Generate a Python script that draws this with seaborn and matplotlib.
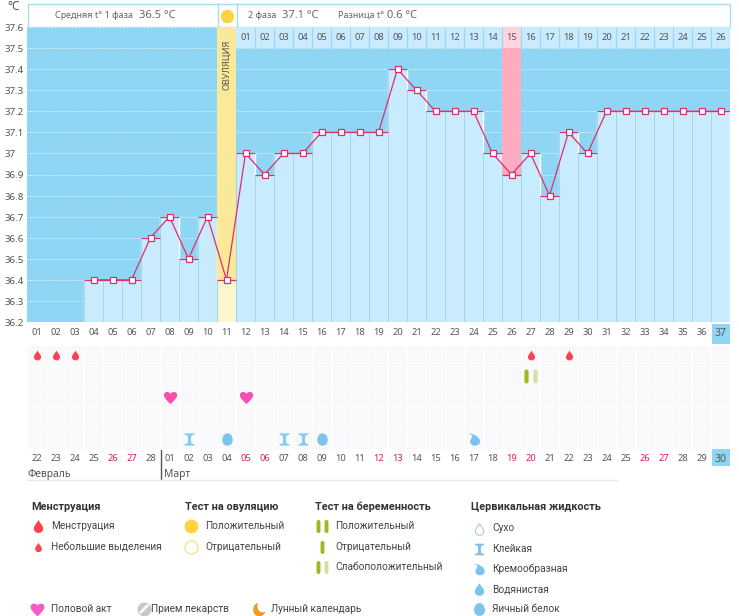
import numpy as np
import pandas as pd
import seaborn as sns
import matplotlib.pyplot as plt
from matplotlib.colors import ListedColormap
from matplotlib.patches import Rectangle
from matplotlib.path import Path
from matplotlib.transforms import ScaledTranslation

nan = float('nan')

# Data
cycle_days = [f"{d:02d}" for d in range(1, 38)]
temps = [nan, nan, nan, 36.4, 36.4, 36.4, 36.6, 36.7, 36.5, 36.7, 36.4, 37.0, 36.9,
         37.0, 37.0, 37.1, 37.1, 37.1, 37.1, 37.4, 37.3, 37.2, 37.2, 37.2, 37.0, 36.9,
         37.0, 36.8, 37.1, 37.0, 37.2, 37.2, 37.2, 37.2, 37.2, 37.2, 37.2]
y_ticks = [36.2, 36.3, 36.4, 36.5, 36.6, 36.7, 36.8, 36.9, 37.0, 37.1, 37.2, 37.3, 37.4, 37.5, 37.6]
y_labels = ["36.2", "36.3", "36.4", "36.5", "36.6", "36.7", "36.8", "36.9", "37", "37.1",
            "37.2", "37.3", "37.4", "37.5", "37.6"]
phase_days = [f"{d:02d}" for d in range(1, 27)]
dates = ["22", "23", "24", "25", "26", "27", "28"] + [f"{d:02d}" for d in range(1, 31)]
weekend_idx = [4, 5, 11, 12, 18, 19, 25, 26, 32, 33]
ovulation_day = 11
peak_day = 26
menses_days = [1, 2, 3, 27, 29]
test_strong_days = [27]
test_weak_days = [27]
sex_days = [8, 12]
sticky_days = [9, 14, 15]
egg_days = [11, 16]
cream_days = [24]

DARK = '#8FD6F5'
LIGHT = '#C8EBFD'
EDGE = '#A2D5EC'
YELLOW = '#FBE99A'
PALE_YELLOW = '#FCF6CC'
PINK = '#FFABC1'
LINE = '#DC2F70'
GREY = '#555555'
RED = '#FA4450'
BLUE = '#7CC3EF'
GREEN = '#9DB921'
PALE_GREEN = '#D3E0A5'
HEART = '#FB4FB0'

sns.set_theme(style='white')
plt.rcParams['font.family'] = ['Noto Sans', 'DejaVu Sans']

# marker shapes
C3, C4, L, M, Z = Path.CURVE3, Path.CURVE4, Path.LINETO, Path.MOVETO, Path.CLOSEPOLY
DROP = Path([(0, 1), (0.2, 0.55), (0.72, 0.2), (0.72, -0.35), (0.72, -0.75), (0.35, -1), (0, -1),
             (-0.35, -1), (-0.72, -0.75), (-0.72, -0.35), (-0.72, 0.2), (-0.2, 0.55), (0, 1), (0, 1)],
            [M, C4, C4, C4, C4, C4, C4, C4, C4, C4, C4, C4, C4, Z])
HEART_M = Path([(0, -1), (-0.5, -0.5), (-1, -0.1), (-1, 0.35), (-1, 0.95), (-0.25, 1), (0, 0.55),
                (0.25, 1), (1, 0.95), (1, 0.35), (1, -0.1), (0.5, -0.5), (0, -1), (0, -1)],
               [M, C4, C4, C4, C4, C4, C4, C4, C4, C4, C4, C4, C4, Z])
GLASS = Path([(-0.8, 1), (0.8, 1), (0.8, 0.8), (0.3, 0.6), (0.22, 0), (0.3, -0.6), (0.8, -0.8),
              (0.8, -1), (-0.8, -1), (-0.8, -0.8), (-0.3, -0.6), (-0.22, 0), (-0.3, 0.6),
              (-0.8, 0.8), (-0.8, 1)],
             [M, L, L, L, L, L, L, L, L, L, L, L, L, L, Z])
EGG = Path([(0, 1), (0.55, 1), (0.85, 0.45), (0.85, -0.1), (0.85, -0.65), (0.5, -1), (0, -1),
            (-0.5, -1), (-0.85, -0.65), (-0.85, -0.1), (-0.85, 0.45), (-0.55, 1), (0, 1), (0, 1)],
           [M, C4, C4, C4, C4, C4, C4, C4, C4, C4, C4, C4, C4, Z])
CREAM = Path([(-1, 1), (-0.1, 0.95), (0.9, 0.4), (0.9, -0.3), (0.9, -0.75), (0.5, -1), (0.05, -1),
              (-0.45, -1), (-0.75, -0.65), (-0.7, -0.25), (-0.65, 0.15), (-0.35, 0.3), (-0.35, 0.5),
              (-0.35, 0.7), (-0.7, 0.9), (-1, 1), (-1, 1)],
             [M, C4, C4, C4, C4, C4, C4, C4, C4, C4, C4, C4, C4, C4, C4, C4, Z])
PILL = Path([(-0.3, 0.7), (-0.3, 1), (0, 1), (0.3, 1), (0.3, 0.7), (0.3, -0.7), (0.3, -1), (0, -1),
             (-0.3, -1), (-0.3, -0.7), (-0.3, 0.7)],
            [M, C3, C3, C3, C3, L, C3, C3, C3, C3, Z])
MOON = Path([(-0.1, 1), (-1.1, 0.6), (-1.0, -1.0), (0.1, -1), (0.6, -1), (0.9, -0.7), (1, -0.35),
             (0.4, -0.55), (-0.35, -0.3), (-0.1, 1), (-0.1, 1)],
            [M, C4, C4, C4, C4, C4, C4, C4, C4, C4, Z])

W, H = 739, 616
fig = plt.figure(figsize=(W / 100, H / 100), dpi=100, facecolor='white')


def px_axes(left, top, right, bottom):
    return fig.add_axes([left / W, 1 - bottom / H, (right - left) / W, (bottom - top) / H])


# pixel layer: header box, legend, blue cells
page = fig.add_axes([0, 0, 1, 1], zorder=0)
page.set_xlim(0, W)
page.set_ylim(H, 0)
page.axis('off')

ax = px_axes(27, 27, 730, 322)
ax.set_zorder(1)
ax.set_facecolor(DARK)

df = pd.DataFrame({'day': cycle_days, 'temp': temps, 'pos': np.arange(len(cycle_days))})
colors = {d: LIGHT for d in cycle_days}
colors[cycle_days[ovulation_day - 1]] = PALE_YELLOW

ax.grid(axis='y', color='white', linestyle=(0, (1, 2)), linewidth=0.72)
ax.set_axisbelow(True)
sns.barplot(data=df, x='day', y='temp', hue='day', palette=colors, order=cycle_days, dodge=False,
            width=1, saturation=1, errorbar=None, legend=False, ax=ax, zorder=1)
ax.set_xlim(-0.5, 36.5)
ax.set_ylim(36.2, 37.6)

# ovulation and peak columns, second phase header cells
ov = ovulation_day - 1
pk = peak_day - 1
ax.fill_between([ov - 0.5, ov + 0.5], temps[ov], 37.6, color=YELLOW, lw=0, zorder=1.2)
ax.fill_between([pk - 0.5, pk + 0.5], temps[pk], 37.5, color=PINK, lw=0, zorder=1.2)
ax.fill_between([ov + 0.5, 36.5], 37.5, 37.6, color=LIGHT, lw=0, zorder=1.2)
ax.fill_between([pk - 0.5, pk + 0.5], 37.5, 37.6, color='#FFD3DF', lw=0, zorder=1.3)
ax.vlines(np.arange(ov + 1, 37) + 0.5, 37.5, 37.6, color=EDGE, lw=0.8, zorder=1.4)
for i, label in enumerate(phase_days):
    ax.text(ov + 1 + i, 37.55, label, ha='center', va='center', fontsize=6.7, color=GREY, zorder=3)
ax.text(ov, 37.42, "ОВУЛЯЦИЯ", rotation=90, ha='center', va='center', fontsize=6.6, color=GREY, zorder=3)

# bar borders, then the curve
vals = df.dropna(subset=['temp'])
ax.vlines(vals['pos'] - 0.5, 36.2, vals['temp'], color=EDGE, lw=0.9, zorder=1.5)
ax.hlines(vals['temp'], vals['pos'] - 0.5, vals['pos'] + 0.5, color=LINE, lw=0.9, zorder=2)
sns.lineplot(data=vals, x='pos', y='temp', color=LINE, lw=0.9, marker='s', markersize=3.8,
             markerfacecolor='white', markeredgecolor=LINE, markeredgewidth=0.9,
             errorbar=None, ax=ax, zorder=3)

ax.set(xlabel=None, ylabel=None)
ax.set_xticks(df['pos'])
ax.set_xticklabels(cycle_days, fontsize=6.7, color=GREY)
ax.set_yticks(y_ticks)
ax.set_yticklabels(y_labels, fontsize=7, color=GREY, ha='left', va='center')
ax.tick_params(axis='x', length=0, pad=4.5)
ax.tick_params(axis='y', length=0, pad=16)
ax.get_xticklabels()[-1].set_fontsize(7.6)
down = ScaledTranslation(0, -1.5 / 100, fig.dpi_scale_trans)
for lab in ax.get_yticklabels():
    lab.set_transform(lab.get_transform() + down)
sns.despine(ax=ax, left=True, bottom=True)

# symbol strip
strip = px_axes(27, 345, 730, 449)
strip.set_zorder(1)
sns.heatmap(np.zeros((5, 37)), ax=strip, cmap=ListedColormap(['#F9F9FB']), vmin=0, vmax=1, cbar=False,
            linewidths=0.6, linecolor='white', xticklabels=dates, yticklabels=False)
strip.tick_params(axis='x', length=0, pad=3.5, rotation=0, labelsize=6.7, labelcolor=GREY)
for i in weekend_idx:
    strip.get_xticklabels()[i].set_color('#D81B60')
strip.get_xticklabels()[-1].set_fontsize(7.6)


def marks(days, row, path, color, size, shift=0.0):
    x = np.array(days) - 0.5 + shift
    sns.scatterplot(x=x, y=np.full(len(x), row + 0.5), marker=path, color=color, s=size,
                    linewidth=0, ax=strip, legend=False, zorder=3)


marks(menses_days, 0, DROP, RED, 50)
marks(test_strong_days, 1, PILL, GREEN, 100, -0.22)
marks(test_weak_days, 1, PILL, PALE_GREEN, 100, 0.22)
marks(sex_days, 2, HEART_M, HEART, 90)
marks(sticky_days, 4, GLASS, '#86CBF0', 78)
marks(egg_days, 4, EGG, BLUE, 78)
marks(cream_days, 4, CREAM, BLUE, 78)

# header box
page.add_patch(Rectangle((27.5, 3.5), 702, 23.5, fc='white', ec='#A9DCEC', lw=1))
page.plot([218, 218], [3, 27], color='#A9DCEC', lw=1)
page.plot([237, 237], [3, 27], color='#A9DCEC', lw=1)
page.scatter([227], [16], s=95, color='#FDD341', linewidth=0)
for x, txt, size in [(55, "Средняя t° 1 фаза", 6.5), (139, "36.5 °C", 8), (248, "2 фаза", 6.5),
                     (282, "37.1 °C", 8), (338, "Разница t°", 6.5), (387, "0.6 °C", 8)]:
    page.text(x, 15.5, txt, fontsize=size, color='#666666', va='center')
page.text(7, 7, "°C", fontsize=8.5, color=GREY, va='center')

# blue end cells
page.add_patch(Rectangle((712, 324), 18, 20, fc=DARK, lw=0))
page.add_patch(Rectangle((712, 448), 18, 18, fc=DARK, lw=0))

# months
page.plot([160.5, 160.5], [450, 479], color=GREY, lw=1)
page.plot([27, 617], [479.5, 479.5], color='#E8E8E8', lw=1)
page.text(27, 474, "Февраль", fontsize=7.4, color=GREY, va='center')
page.text(164, 474, "Март", fontsize=7.4, color=GREY, va='center')

# legend
LEG = 'Roboto'
for x, txt in [(31, "Менструация"), (185, "Тест на овуляцию"), (315, "Тест на беременность"),
               (471, "Цервикальная жидкость")]:
    page.text(x, 507, txt, family=LEG, fontsize=7.8, fontweight='bold', color='#333333', va='center')
items = [(51, 526, "Менструация"), (51, 547, "Небольшие выделения"), (205, 526, "Положительный"),
         (205, 547, "Отрицательный"), (335, 526, "Положительный"), (335, 547, "Отрицательный"),
         (335, 567, "Слабоположительный"), (492, 528, "Сухо"), (492, 549, "Клейкая"),
         (492, 569, "Кремообразная"), (492, 589, "Водянистая"), (492, 609, "Яичный белок"),
         (51, 609, "Половой акт"), (151, 609, "Прием лекарств"), (271, 609, "Лунный календарь")]
for x, y, txt in items:
    page.text(x, y, txt, family=LEG, fontsize=7.25, color='#444444', va='center')


def icon(x, y, path, color, size, **kw):
    page.scatter([x], [y], marker=path, s=size, color=color, linewidth=0, **kw)


icon(38, 526, DROP, RED, 88)
icon(38, 547, DROP, RED, 45)
icon(191, 526, 'o', '#FDD341', 100)
page.scatter([191], [547], marker='o', s=90, facecolor='white', edgecolor='#F6E08A', linewidth=0.9)
icon(318, 526, PILL, GREEN, 88)
icon(326, 526, PILL, GREEN, 88)
icon(322, 547, PILL, GREEN, 88)
icon(318, 567, PILL, GREEN, 88)
icon(326, 567, PILL, PALE_GREEN, 88)
page.scatter([479], [529], marker=DROP, s=70, facecolor='white', edgecolor='#A9CDE8', linewidth=0.8)
icon(479, 549, GLASS, BLUE, 70)
icon(479, 569, CREAM, BLUE, 70)
icon(479, 589, DROP, BLUE, 85)
icon(479, 609, EGG, BLUE, 85)
icon(37, 609, HEART_M, '#F95CC3', 100)
icon(144, 609, 'o', '#C8C8C8', 100)
page.plot([140.5, 147.5], [612.5, 605.5], color='white', lw=1.8)
icon(258, 609, MOON, '#F39A1E', 115)

fig.savefig('out.png', dpi=100)
